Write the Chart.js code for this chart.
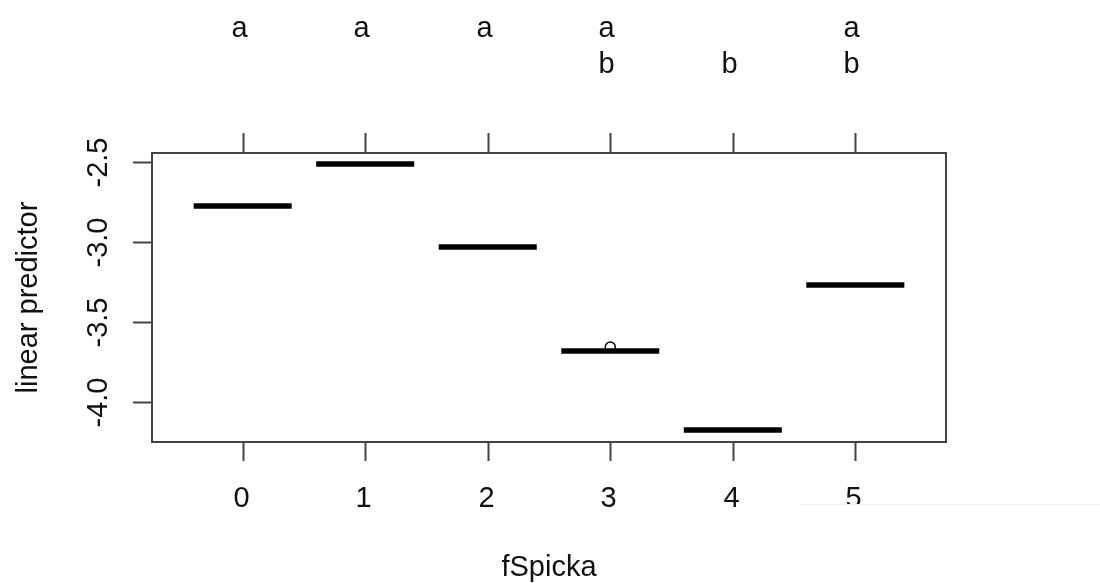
<!DOCTYPE html>
<html>
<head>
<meta charset="utf-8">
<script src="https://cdn.jsdelivr.net/npm/chart.js@4"></script>
<style>
  html, body { margin: 0; padding: 0; background: #fff; }
  #wrap { width: 1100px; height: 583px; }
</style>
</head>
<body>
<div id="wrap"><canvas id="plot" width="1100" height="583"></canvas></div>
<script>
// --- dados ---
const categories = ['0', '1', '2', '3', '4', '5'];
const predictor = [-2.772, -2.509, -3.028, -3.678, -4.172, -3.266];
const groupLetters = [['a'], ['a'], ['a'], ['a', 'b'], ['b'], ['a', 'b']];
const outlierCategory = [3];
const outlierValue = [-3.653];
const yTicks = [-2.5, -3.0, -3.5, -4.0];
const yTickLabels = ['-2.5', '-3.0', '-3.5', '-4.0'];
const xTitle = 'fSpicka';
const yTitle = 'linear predictor';

const FONT = '"Liberation Sans", Arial, sans-serif';
const BOXW = 0.4; // meia largura da caixa (boxwex 0.8)

// uma linha por categoria (mediana da caixa degenerada)
const datasets = categories.map((c, i) => ({
    type: 'line',
    data: [{ x: i - BOXW, y: predictor[i] }, { x: i + BOXW, y: predictor[i] }],
    borderColor: '#000',
    borderWidth: 5.5,
    borderCapStyle: 'butt',
    pointRadius: 0,
    fill: false
}));

datasets.push({
    type: 'scatter',
    data: outlierCategory.map((c, k) => ({ x: c, y: outlierValue[k] })),
    pointStyle: 'circle',
    pointRadius: 5,
    pointBorderWidth: 1.5,
    pointBorderColor: '#000',
    pointBackgroundColor: 'rgba(0,0,0,0)'
});

// --- eixos e textos no estilo R ---
const rAxes = {
    id: 'rAxes',
    afterDraw(chart) {
        const g = chart.ctx;
        const a = chart.chartArea;
        const xs = chart.scales.x, ys = chart.scales.y;
        g.save();
        g.strokeStyle = '#444';
        g.lineWidth = 2;
        g.strokeRect(a.left, a.top, a.right - a.left, a.bottom - a.top);

        g.fillStyle = '#111';
        g.font = '29px ' + FONT;
        g.textAlign = 'center';

        categories.forEach((c, i) => {
            const px = Math.round(xs.getPixelForValue(i)) + 0.5;
            g.beginPath();
            g.moveTo(px, a.bottom); g.lineTo(px, a.bottom + 19);
            g.moveTo(px, a.top); g.lineTo(px, a.top - 20);
            g.stroke();
            g.textBaseline = 'alphabetic';
            g.fillText(c, px - 2, 507);
            groupLetters[i].forEach((l) => {
                const row = l === 'a' ? 0 : 1;
                g.fillText(l, px - 4, 37 + row * 36);
            });
        });

        yTicks.forEach((v, k) => {
            const py = Math.round(ys.getPixelForValue(v)) + 0.5;
            g.beginPath();
            g.moveTo(a.left, py); g.lineTo(a.left - 19, py);
            g.stroke();
            g.save();
            g.translate(107, py);
            g.rotate(-Math.PI / 2);
            g.textBaseline = 'alphabetic';
            g.fillText(yTickLabels[k], 0, 0);
            g.restore();
        });

        g.save();
        g.translate(37, (a.top + a.bottom) / 2);
        g.rotate(-Math.PI / 2);
        g.fillText(yTitle, 0, 0);
        g.restore();

        g.fillText(xTitle, (a.left + a.right) / 2, 576);

        // faixa branca sobreposta no canto inferior direito
        g.fillStyle = '#fff';
        g.fillRect(800, 504, 300, 79);
        g.strokeStyle = '#eee';
        g.lineWidth = 1;
        g.beginPath();
        g.moveTo(800, 504.5); g.lineTo(1100, 504.5);
        g.stroke();
        g.restore();
    }
};

const ctx = document.getElementById('plot').getContext('2d');
new Chart(ctx, {
    type: 'line',
    data: { datasets },
    options: {
        responsive: false,
        animation: false,
        layout: { padding: { left: 152, right: 154, top: 153, bottom: 141 } },
        plugins: { legend: { display: false }, tooltip: { enabled: false } },
        scales: {
            x: { type: 'linear', min: -0.74, max: 5.74, display: false },
            y: { type: 'linear', min: -4.247, max: -2.441, display: false }
        }
    },
    plugins: [rAxes]
});
</script>
</body>
</html>
